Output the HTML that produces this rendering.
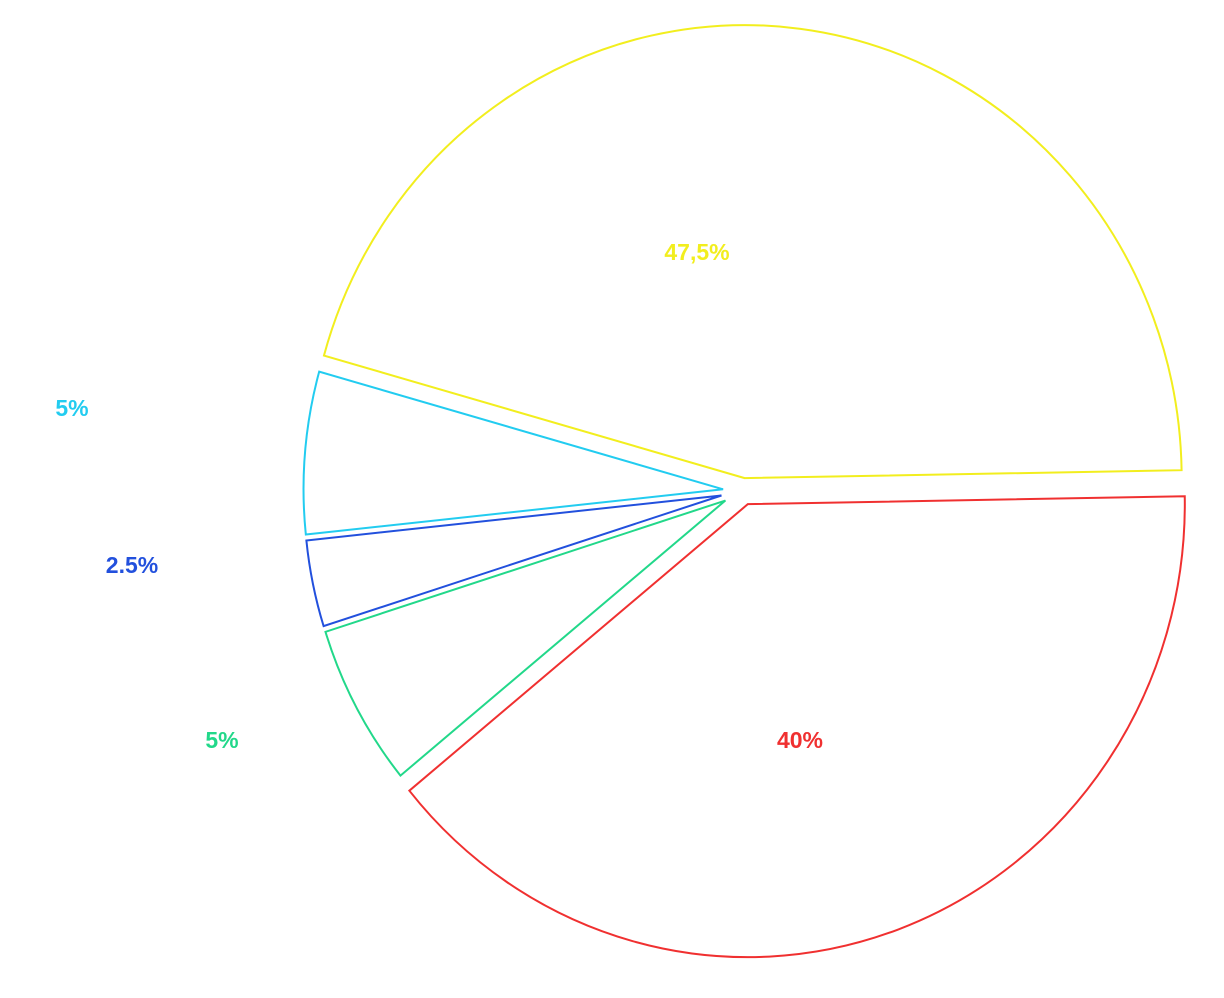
<!DOCTYPE html>
<html><head><meta charset="utf-8"><style>
html,body{margin:0;padding:0;background:#fff;}
svg{display:block;}
text{font-family:"Liberation Sans",sans-serif;font-weight:bold;font-size:23px;}
</style></head><body>
<svg id="chart" width="1224" height="998" viewBox="0 0 1224 998" xmlns="http://www.w3.org/2000/svg"></svg>
<script>
const categories = ['red', 'green', 'blue', 'cyan', 'yellow'];
const values = [40, 5, 2.5, 5, 47.5];
const valueLabels = ['40%', '5%', '2.5%', '5%', '47,5%'];
const colors = ['#f03030', '#22d88a', '#2250dd', '#22ccf0', '#f2ee1e'];
const labelPos = [[800,740],[222,740],[132,565],[72,408],[697,252]];

const svg = document.getElementById('chart');
const NS = 'http://www.w3.org/2000/svg';
const cx = 743, cy = 491, rx = 437, ry = 453, start = 0, power = 0.9, tilt = -1;
const explode = [14, 20, 22, 20, 13];
const rscale = [1, 0.96, 0.955, 0.96, 1];
const weights = values.map(v=>Math.pow(v, power));
const total = weights.reduce((a,b)=>a+b,0);
function pt(ox, oy, deg, s){const t=deg*Math.PI/180;return [ox+rx*s*Math.cos(t), oy+ry*s*Math.sin(t)];}
let a = start;
weights.forEach((w,i)=>{
  const span = w/total*360;
  let a0 = a, a1 = a+span;
  if (i === 0) a0 += tilt;
  if (i === weights.length-1) a1 += tilt;
  const mid = (a0+a1)/2*Math.PI/180;
  const d = explode[i], s = rscale[i];
  const ox = cx + d*Math.cos(mid), oy = cy + d*Math.sin(mid);
  const p0 = pt(ox,oy,a0,s), p1 = pt(ox,oy,a1,s);
  const large = (a1-a0)>180?1:0;
  const path = document.createElementNS(NS,'path');
  path.setAttribute('d',`M${ox},${oy} L${p0[0]},${p0[1]} A${rx*s},${ry*s} 0 ${large} 1 ${p1[0]},${p1[1]} Z`);
  path.setAttribute('fill','none');
  path.setAttribute('stroke',colors[i]);
  path.setAttribute('stroke-width','2');
  
  
  svg.appendChild(path);
  const tx = document.createElementNS(NS,'text');
  tx.setAttribute('x',labelPos[i][0]);
  tx.setAttribute('y',labelPos[i][1]+8);
  tx.setAttribute('text-anchor','middle');
  tx.setAttribute('fill',colors[i]);
  tx.textContent = valueLabels[i];
  
  
  svg.appendChild(tx);
  a = a1 - (i === weights.length-1 ? tilt : 0);
});
</script>
</body></html>
